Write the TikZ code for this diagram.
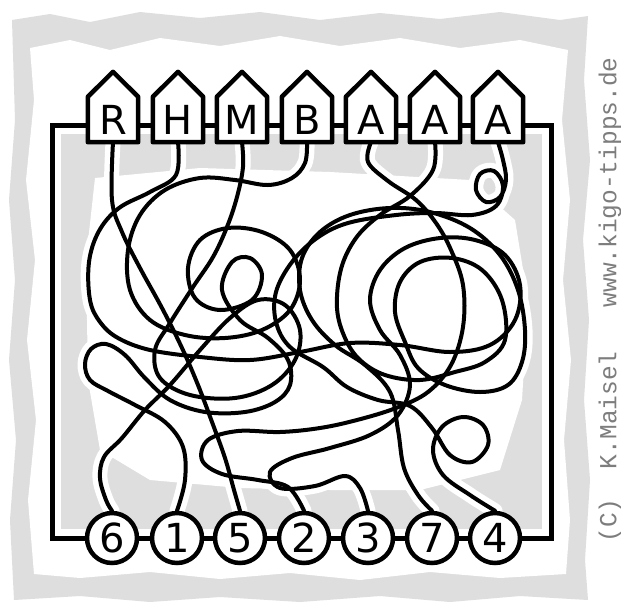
\documentclass[tikz,border=0pt]{standalone}
\usepackage{fontspec}
\setmainfont{DejaVu Sans}
\newfontfamily\cmono{Liberation Mono}
\usetikzlibrary{calc}
\pgfdeclarelayer{bg}
\pgfdeclarelayer{halo}
\pgfdeclarelayer{shapes}
\pgfsetlayers{bg,halo,shapes,main}
\definecolor{paper}{RGB}{222,222,222}
\definecolor{credit}{RGB}{125,125,125}
\newcommand{\tangleR}{plot[smooth,tension=0.6] coordinates {(hR.south) (112,200) (122,232) (140,268) (162,308) (182,348) (198,385) (212,422) (225,458) (234,490) (c5.north)}}
\newcommand{\tangleM}{plot[smooth,tension=0.6] coordinates {(hM.south) (243,167) (237,197) (227,227) (213,257) (193,287) (170,323) (155,350) (160,378) (190,395) (235,398) (272,385) (295,360) (300,330) (285,305) (258,300) (230,318) (200,350) (170,385) (145,410) (122,438) (104,457) (100,478) (106,500) (c6.north)}}
\newcommand{\tangleH}{plot[smooth,tension=0.6] coordinates {(hH.south) (176,175) (150,192) (119,208) (99,231) (89,262) (90,300) (100,322) (118,338) (150,350) (200,357) (250,360) (300,352) (350,343) (400,345) (450,352) (490,345) (515,320) (520,285) (505,255) (475,240) (440,238) (405,248) (380,270) (370,300) (380,330) (400,355) (410,385) (398,415) (370,435) (330,448) (292,458) (270,472) (280,488) (315,486) (345,476) (360,488) (c3.north)}}
\newcommand{\tangleB}{plot[smooth,tension=0.6] coordinates {(hB.south) (305,163) (292,178) (268,185) (235,180) (200,178) (165,190) (140,215) (128,250) (130,290) (150,320) (185,335) (225,338) (262,330) (290,310) (300,280) (290,250) (262,232) (228,228) (200,240) (188,268) (195,298) (220,310) (252,300) (262,275) (250,258) (232,262) (222,290) (240,320) (268,338) (288,360) (290,385) (275,402) (245,412) (205,412) (170,400) (145,378) (125,355) (106,344) (91,349) (85,364) (90,380) (108,391) (135,405) (165,422) (183,447) (185,480) (c1.north)}}
\newcommand{\tangleAa}{plot[smooth,tension=0.6] coordinates {(hA1.south) (368,162) (388,181) (416,200) (436,223) (451,250) (463,285) (463,327) (451,365) (428,392) (396,408) (357,420) (320,428) (280,432) (238,431) (208,440) (202,460) (222,474) (258,480) (288,487) (c2.north)}}
\newcommand{\tangleAb}{plot[smooth,tension=0.6] coordinates {(hA2.south) (433,170) (410,196) (380,215) (356,238) (341,269) (337,308) (345,338) (360,360) (385,375) (420,380) (455,372) (485,362) (505,340) (502,300) (482,270) (452,258) (420,262) (400,282) (395,312) (405,342) (418,368) (445,385) (480,392) (508,385) (522,362) (525,330) (518,290) (500,255) (470,228) (430,212) (390,208) (350,215) (320,232) (302,258) (300,290) (312,320) (335,345) (365,365) (390,392) (398,430) (404,468) (418,495) (c7.north)}}
\newcommand{\tangleAc}{plot[smooth,tension=0.6] coordinates {(hA3.south) (503,160) (506,180) (500,197) (486,202) (476,190) (480,174) (494,171) (503,186) (496,206) (472,215) (435,213) (396,215) (348,223) (317,238) (292,262) (276,292) (276,322) (290,347) (323,367) (347,387) (378,400) (410,406) (432,428) (450,455) (472,462) (488,445) (483,425) (463,417) (442,427) (433,450) (443,475) (470,495) (c4.north)}}
\begin{document}
\begin{tikzpicture}[x=1pt,y=-1pt,
  hbox/.style={minimum width=50pt,minimum height=45pt,inner sep=0pt,font=\fontsize{40}{42}\selectfont},
  houseline/.style={draw=black,fill=white,line width=4.5pt,line join=round},
  cnum/.style={circle,draw=black,fill=white,line width=4.5pt,minimum size=50pt,inner sep=0pt,font=\fontsize{40}{42}\selectfont},
  frameline/.style={draw=black,line width=5pt},
  tline/.style={draw=black,line width=4pt,line cap=round,line join=round},
  halo/.style={draw=white,line width=15pt,line cap=round,line join=round},
  creditstyle/.style={text=credit,font=\cmono\fontsize{24.5}{26}\selectfont,inner sep=0pt}]
\useasboundingbox (0,0) rectangle (621,603);
% background
\begin{pgfonlayer}{bg}
\fill[white] (0,0) rectangle (621,603);
\fill[paper] (12,20) -- (50,14) -- (90,22) -- (140,12) -- (200,18) -- (260,12) -- (320,20) -- (380,13) -- (440,19) -- (500,12) -- (560,20) -- (588,16) -- (584,80) -- (590,160) -- (583,240) -- (589,320) -- (584,400) -- (590,480) -- (585,560) -- (588,600) -- (520,596) -- (450,602) -- (380,596) -- (300,602) -- (220,597) -- (150,602) -- (80,596) -- (14,600) -- (10,520) -- (16,440) -- (9,360) -- (15,280) -- (9,200) -- (15,120) -- cycle;
\fill[white] (30,48) -- (70,40) -- (110,50) -- (160,38) -- (220,46) -- (280,36) -- (340,46) -- (400,38) -- (460,48) -- (520,40) -- (568,50) -- (562,120) -- (570,200) -- (563,280) -- (571,360) -- (564,440) -- (570,520) -- (566,574) -- (500,578) -- (430,572) -- (360,580) -- (290,573) -- (220,579) -- (150,572) -- (80,578) -- (34,574) -- (28,500) -- (36,420) -- (27,340) -- (35,260) -- (26,180) -- (34,100) -- cycle;
\fill[paper] (54,127) rectangle (549,536);
\fill[white] (95,178) -- (200,168) -- (330,172) -- (470,180) -- (515,220) -- (528,300) -- (522,400) -- (500,470) -- (420,490) -- (330,490) -- (240,488) -- (150,480) -- (100,450) -- (88,380) -- (86,260) -- cycle;
\end{pgfonlayer}
% houses
\node[hbox] (hR) at (113,119.5) {R};
\node[hbox] (hH) at (178,119.5) {H};
\node[hbox] (hM) at (242,119.5) {M};
\node[hbox] (hB) at (307,119.5) {B};
\node[hbox] (hA1) at (371,119.5) {A};
\node[hbox] (hA2) at (435,119.5) {A};
\node[hbox] (hA3) at (498,119.5) {A};
% number circles
\node[cnum] (c6) at (112,538) {6};
\node[cnum] (c1) at (177,538) {1};
\node[cnum] (c5) at (240,538) {5};
\node[cnum] (c2) at (304,538) {2};
\node[cnum] (c3) at (368,538) {3};
\node[cnum] (c7) at (432,538) {7};
\node[cnum] (c4) at (495,538) {4};
\begin{pgfonlayer}{shapes}
\draw[frameline] (52,125) rectangle (551,538);
\foreach \h in {hR,hH,hM,hB,hA1,hA2,hA3}{
  \draw[houseline] (\h.south west) -- (\h.north west) -- ([yshift=25pt]\h.north) -- (\h.north east) -- (\h.south east) -- cycle;
}
\end{pgfonlayer}
\begin{pgfonlayer}{halo}
\draw[draw=white,line width=18pt] (52,125) rectangle (551,538);
\draw[halo] \tangleR;
\draw[halo] \tangleH;
\draw[halo] \tangleM;
\draw[halo] \tangleB;
\draw[halo] \tangleAa;
\draw[halo] \tangleAb;
\draw[halo] \tangleAc;
\end{pgfonlayer}
% tangled lines
\draw[tline] \tangleR;
\draw[tline] \tangleH;
\draw[tline] \tangleM;
\draw[tline] \tangleB;
\draw[tline] \tangleAa;
\draw[tline] \tangleAb;
\draw[tline] \tangleAc;
% credit
\node[creditstyle,rotate=90] (credit) at (610,300) {(C)\ \ K.Maisel\ \ \ www.kigo-tipps.de};
\end{tikzpicture}
\end{document}
